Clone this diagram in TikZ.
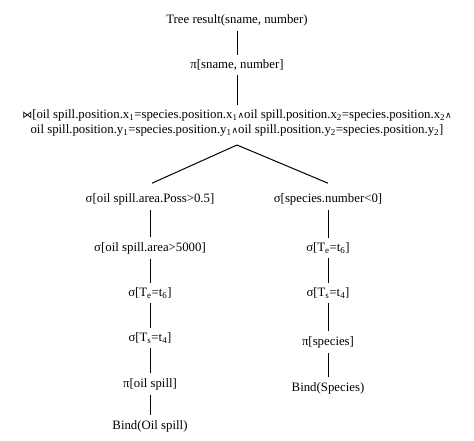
\documentclass[tikz,border=0pt]{standalone}
\usepackage{fontspec}
\setmainfont{Liberation Serif}
\newfontfamily\symfont{DejaVu Sans}
\newcommand{\andop}{{\symfont\fontsize{9}{9}\selectfont ∧}}
\newcommand{\joinop}{{\symfont\fontsize{10}{10}\selectfont ⋈}}
\newcommand{\sub}[1]{\textsubscript{#1}}
\begin{document}
\begin{tikzpicture}[x=1pt,y=-1pt,
  lbl/.style={inner sep=0pt, outer sep=5pt, font=\fontsize{12.8}{15}\selectfont},
  edge/.style={draw=black, line width=1pt}]
\useasboundingbox (0,0) rectangle (474,441);
\node[lbl] (tr) at (237,20) {Tree result(sname, number)};
\node[lbl] (pi) at (237,65) {π[sname, number]};
\node[lbl, align=center] (jn) at (237,123) {\joinop[oil spill.position.x\sub{1}=species.position.x\sub{1}\andop oil spill.position.x\sub{2}=species.position.x\sub{2}\andop\\
oil spill.position.y\sub{1}=species.position.y\sub{1}\andop oil spill.position.y\sub{2}=species.position.y\sub{2}]};
\coordinate (apex) at (237,145);
% left branch
\node[lbl] (l1) at (150,199) {σ[oil spill.area.Poss>0.5]};
\node[lbl] (l2) at (150,248) {σ[oil spill.area>5000]};
\node[lbl] (l3) at (150,293) {σ[T\sub{e}=t\sub{6}]};
\node[lbl] (l4) at (150,338) {σ[T\sub{s}=t\sub{4}]};
\node[lbl] (l5) at (150,384) {π[oil spill]};
\node[lbl] (l6) at (150,426) {Bind(Oil spill)};
% right branch
\node[lbl] (r1) at (328,199) {σ[species.number<0]};
\node[lbl] (r2) at (328,248) {σ[T\sub{e}=t\sub{6}]};
\node[lbl] (r3) at (328,293) {σ[T\sub{s}=t\sub{4}]};
\node[lbl] (r4) at (328,342) {π[species]};
\node[lbl] (r5) at (328,388) {Bind(Species)};
\draw[edge] (tr) -- (pi);
\draw[edge] (pi) -- (jn);
\draw[edge] (apex) -- ([xshift=2pt,yshift=5pt]l1.north);
\draw[edge] (apex) -- ([yshift=5pt]r1.north);
\draw[edge] (l1) -- (l2);
\draw[edge] (l2) -- (l3);
\draw[edge] (l3) -- (l4);
\draw[edge] (l4) -- (l5);
\draw[edge] (l5) -- (l6);
\draw[edge] (r1) -- (r2);
\draw[edge] (r2) -- (r3);
\draw[edge] (r3) -- (r4);
\draw[edge] (r4) -- (r5);
\end{tikzpicture}
\end{document}
